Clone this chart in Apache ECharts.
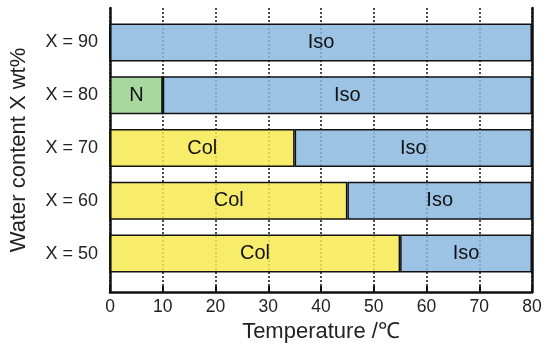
<!DOCTYPE html>
<html><head><meta charset="utf-8">
<script src="https://cdn.jsdelivr.net/npm/echarts@6/dist/echarts.min.js"></script>
<style>html,body{margin:0;padding:0;background:#fff}#c{width:550px;height:349px}</style>
</head><body><div id="c"></div>
<script>
const categories = ['X = 50','X = 60','X = 70','X = 80','X = 90'];
const nValues   = [0, 0, 0, 10, 0];
const colValues = [55, 45, 35, 0, 0];
const isoValues = [25, 35, 45, 70, 80];
const xTicks = {min: 0, max: 80, interval: 10};

const FONT = '"Liberation Sans", Arial, sans-serif';
const chart = echarts.init(document.getElementById('c'));
function seg(name, data, color){
  return {
    type: 'bar', name, data, stack: 'phase', xAxisIndex: 0, yAxisIndex: 0,
    barWidth: 38, z: 3,
    itemStyle: {color, borderColor: '#111', borderWidth: 1.5},
    label: {show: true, position: 'inside', color: '#111', fontSize: 20, fontFamily: FONT,
      formatter: p => p.value > 0 ? name : ''}
  };
}
chart.setOption({
  animation: false,
  grid: [
    {left: 110, right: 18, top: 16, height: 264},
    {left: 110, right: 18, top: 8, height: 284}
  ],
  xAxis: [
    {gridIndex: 0, type: 'value', min: xTicks.min, max: xTicks.max, interval: xTicks.interval,
      axisLine: {show: false}, axisTick: {show: false}, axisLabel: {show: false}, splitLine: {show: false}},
    {gridIndex: 1, type: 'value', min: xTicks.min, max: xTicks.max, interval: xTicks.interval,
      axisLine: {show: true, lineStyle: {color: '#111', width: 2.5}},
      axisTick: {show: true, inside: true, length: 6, lineStyle: {color: '#111', width: 2}},
      axisLabel: {color: '#222', fontSize: 17.5, fontFamily: FONT, margin: 6},
      splitLine: {show: true, lineStyle: {color: '#111', type: [2, 2], width: 1.5}},
      name: 'Temperature /℃', nameLocation: 'middle', nameGap: 26,
      nameTextStyle: {color: '#222', fontSize: 22, fontFamily: FONT}},
    ],
  yAxis: [
    {gridIndex: 0, type: 'category', data: categories,
      axisLine: {show: false}, axisTick: {show: false},
      axisLabel: {color: '#222', fontSize: 18, fontFamily: FONT, margin: 12}},
    {gridIndex: 1, type: 'value', min: 0, max: 1, position: 'left',
      axisLine: {show: true, onZero: false, lineStyle: {color: '#111', width: 2.5}},
      axisTick: {show: false}, axisLabel: {show: false}, splitLine: {show: false},
      name: 'Water content X wt%', nameLocation: 'middle', nameGap: 80, nameRotate: 90,
      nameTextStyle: {color: '#222', fontSize: 22, fontFamily: FONT}},
    {gridIndex: 1, type: 'value', min: 0, max: 1, position: 'right',
      axisLine: {show: true, onZero: false, lineStyle: {color: '#111', width: 2.5}},
      axisTick: {show: false}, axisLabel: {show: false}, splitLine: {show: false}}
  ],
  series: [
    seg('N', nValues, 'rgba(153,209,143,0.85)'),
    seg('Col', colValues, 'rgba(247,234,80,0.85)'),
    seg('Iso', isoValues, 'rgba(140,184,223,0.85)')
  ]
});
</script></body></html>
